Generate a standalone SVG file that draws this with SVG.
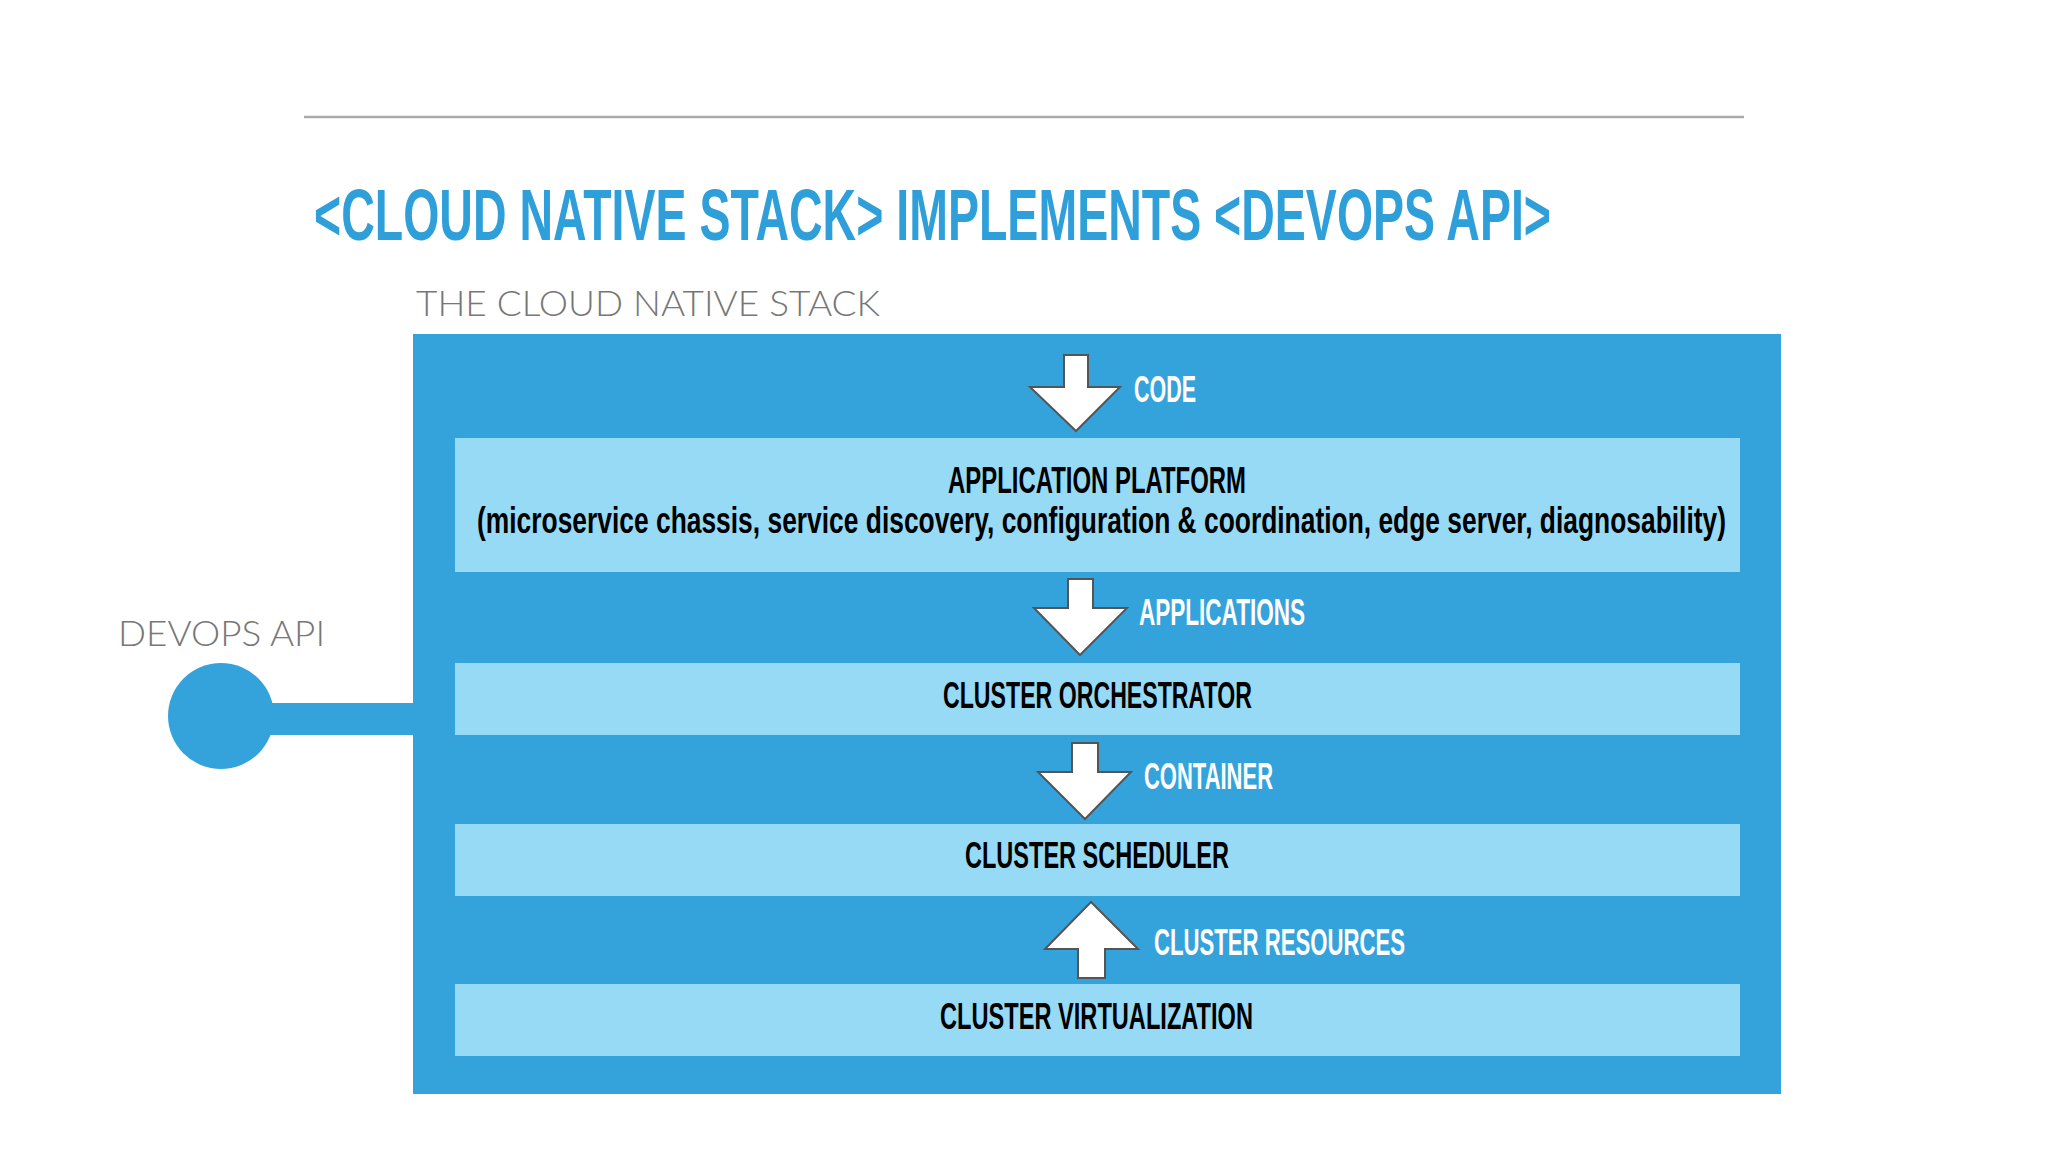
<svg xmlns="http://www.w3.org/2000/svg" width="2048" height="1152" viewBox="0 0 2048 1152">
<style>
.cond{font-family:"Liberation Sans Narrow","Liberation Sans",Arial,sans-serif}
.title{font-size:72px;font-weight:bold;fill:#2f9fd9}
.gray{font-family:Lato,"Open Sans","Liberation Sans",sans-serif;font-size:35px;fill:#777777;font-weight:300}
.layer{fill:#97daf5}
.ltxt{font-size:37px;font-weight:bold;fill:#000}
.wtxt{font-size:36px;font-weight:bold;fill:#fff}
.arrow{fill:#fff;stroke:#555;stroke-width:2;stroke-linejoin:miter}
</style>
<rect width="2048" height="1152" fill="#fff"/>
<line x1="304" y1="117" x2="1744" y2="117" stroke="#aaaaaa" stroke-width="2.5"/>
<text class="cond title" x="314" y="240" textLength="1237" lengthAdjust="spacingAndGlyphs">&lt;CLOUD NATIVE STACK&gt; IMPLEMENTS &lt;DEVOPS API&gt;</text>
<text class="gray" x="416" y="316" textLength="464" lengthAdjust="spacingAndGlyphs">THE CLOUD NATIVE STACK</text>

<g id="stack">
<rect x="413" y="334" width="1368" height="760" fill="#35a3db"/>
</g>

<g id="devops-api">
<text class="gray" x="118" y="646" textLength="207" lengthAdjust="spacingAndGlyphs">DEVOPS API</text>
<circle cx="221" cy="716" r="53" fill="#35a3db"/>
</g>

<g id="connectors">
<rect x="265" y="703" width="150" height="32" fill="#35a3db"/>
<polygon class="arrow" points="1064,355 1088,355 1088,387 1120,387 1076,431 1030,387 1064,387"/>
<polygon class="arrow" points="1068,579 1093,579 1093,608 1127,608 1080,655 1034,608 1068,608"/>
<polygon class="arrow" points="1072,743 1098,743 1098,772 1131,772 1085,819 1038,772 1072,772"/>
<polygon class="arrow" points="1078,978 1105,978 1105,949 1138,949 1091,902 1045,949 1078,949"/>
<text class="cond wtxt" x="1134" y="402" textLength="62" lengthAdjust="spacingAndGlyphs">CODE</text>
<text class="cond wtxt" x="1139" y="625" textLength="166" lengthAdjust="spacingAndGlyphs">APPLICATIONS</text>
<text class="cond wtxt" x="1144" y="789" textLength="129" lengthAdjust="spacingAndGlyphs">CONTAINER</text>
<text class="cond wtxt" x="1154" y="955" textLength="251" lengthAdjust="spacingAndGlyphs">CLUSTER RESOURCES</text>
</g>

<g id="application-platform">
<rect class="layer" x="455" y="438" width="1285" height="134"/>
<text class="cond ltxt" x="948" y="493" textLength="298" lengthAdjust="spacingAndGlyphs">APPLICATION PLATFORM</text>
<text class="cond ltxt" x="477" y="533" textLength="1249" lengthAdjust="spacingAndGlyphs">(microservice chassis, service discovery, configuration &amp; coordination, edge server, diagnosability)</text>
</g>

<g id="cluster-orchestrator">
<rect class="layer" x="455" y="663" width="1285" height="72"/>
<text class="cond ltxt" x="943" y="708" textLength="309" lengthAdjust="spacingAndGlyphs">CLUSTER ORCHESTRATOR</text>
</g>

<g id="cluster-scheduler">
<rect class="layer" x="455" y="824" width="1285" height="72"/>
<text class="cond ltxt" x="965" y="868" textLength="264" lengthAdjust="spacingAndGlyphs">CLUSTER SCHEDULER</text>
</g>

<g id="cluster-virtualization">
<rect class="layer" x="455" y="984" width="1285" height="72"/>
<text class="cond ltxt" x="940" y="1029" textLength="313" lengthAdjust="spacingAndGlyphs">CLUSTER VIRTUALIZATION</text>
</g>
</svg>
